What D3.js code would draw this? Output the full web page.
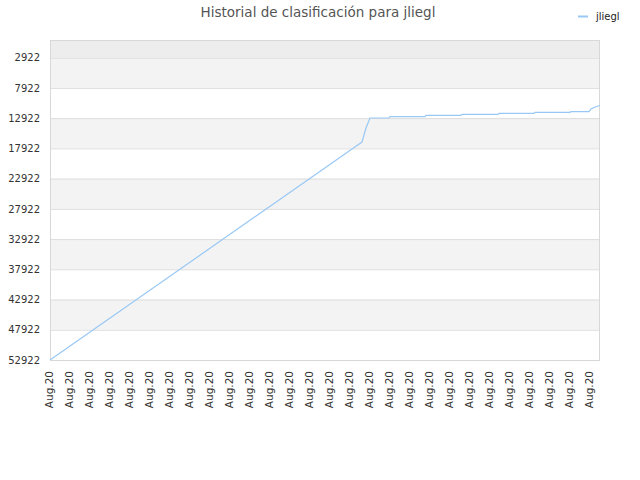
<!DOCTYPE html>
<html>
<head>
<meta charset="utf-8">
<script src="https://cdn.jsdelivr.net/npm/d3@7"></script>
<style>
  body { margin: 0; background: #fff; }
</style>
</head>
<body>
<svg id="chart" width="640" height="480" font-family="'DejaVu Sans', Verdana, sans-serif"></svg>
<script>
const title = "Historial de clasificación para jliegl";
const seriesName = "jliegl";
const xTickLabels = d3.range(28).map(() => "Aug.20");
const yTicks = [2922, 7922, 12922, 17922, 22922, 27922, 32922, 37922, 42922, 47922, 52922];
// day index (one tick per day) and position in the ranking
const days =  [0, 15.1, 15.6, 15.8, 16, 16.95, 17, 18.75, 18.8, 20.55, 20.6, 22.4, 22.45, 24.2, 24.25, 26, 26.05, 26.95, 27.05, 27.25, 27.5];
const ranks = [52922, 18030, 16870, 14550, 12900, 12900, 12685, 12685, 12453, 12453, 12288, 12288, 12122, 12122, 11957, 11957, 11858, 11858, 11411, 11080, 10830];

const svg = d3.select("#chart");
const m = {left: 50, right: 40, top: 40, bottom: 120};
const w = 640 - m.left - m.right, h = 480 - m.top - m.bottom;

const x = d3.scaleLinear().domain([0, 27.5]).range([m.left, m.left + w]);
const y = d3.scaleLinear().domain([0, 52922]).range([m.top, m.top + h]);

// alternating bands
const edges = [0].concat(yTicks);
const bands = svg.append("g");
for (let i = 0; i < edges.length - 1; i++) {
  bands.append("rect")
    .attr("x", m.left).attr("width", w)
    .attr("y", y(edges[i])).attr("height", y(edges[i + 1]) - y(edges[i]))
    .attr("fill", i === 0 ? "#ededed" : (i % 2 === 1 ? "#f3f3f3" : "#ffffff"));
}

// grid lines
svg.append("g").selectAll("line").data(yTicks).join("line")
  .attr("x1", m.left).attr("x2", m.left + w)
  .attr("y1", d => y(d) + 0.5).attr("y2", d => y(d) + 0.5)
  .attr("stroke", "#dddddd");

svg.append("rect")
  .attr("x", m.left + 0.5).attr("y", m.top + 0.5)
  .attr("width", w - 1).attr("height", h)
  .attr("fill", "none").attr("stroke", "#d8d8d8");

// y axis
const yAxis = svg.append("g")
  .attr("transform", `translate(${m.left - 10},0)`)
  .call(d3.axisLeft(y).tickValues(yTicks).tickSize(0).tickPadding(0).tickFormat(d => d));
yAxis.select(".domain").remove();
yAxis.selectAll("text")
  .attr("font-size", 10).attr("fill", "#333")
  .attr("font-family", "'DejaVu Sans', Verdana, sans-serif");

// x axis
const xAxis = svg.append("g")
  .attr("transform", `translate(0,${m.top + h})`)
  .call(d3.axisBottom(x).tickValues(d3.range(28)).tickSize(0).tickFormat(i => xTickLabels[i]));
xAxis.select(".domain").remove();
xAxis.selectAll("text")
  .attr("font-size", 10.5).attr("fill", "#333")
  .attr("font-family", "'DejaVu Sans', Verdana, sans-serif")
  .attr("text-anchor", "end")
  .attr("transform", "rotate(-90)")
  .attr("x", -11).attr("y", -1).attr("dy", "0.35em");

// line
const pts = days.map((d, i) => [d, ranks[i]]);
svg.append("path")
  .datum(pts)
  .attr("fill", "none")
  .attr("stroke", "#99c8f5")
  .attr("stroke-width", 1.2)
  .attr("d", d3.line().x(d => x(d[0])).y(d => y(d[1])));

// title
svg.append("text")
  .attr("x", 318).attr("y", 17)
  .attr("text-anchor", "middle")
  .attr("font-size", 13.5).attr("fill", "#555")
  .text(title);

// legend
svg.append("line")
  .attr("x1", 578).attr("x2", 588).attr("y1", 16.5).attr("y2", 16.5)
  .attr("stroke", "#99c8f5").attr("stroke-width", 2);
svg.append("text")
  .attr("x", 596).attr("y", 20)
  .attr("font-size", 10).attr("fill", "#222")
  .text(seriesName);
</script>
</body>
</html>
